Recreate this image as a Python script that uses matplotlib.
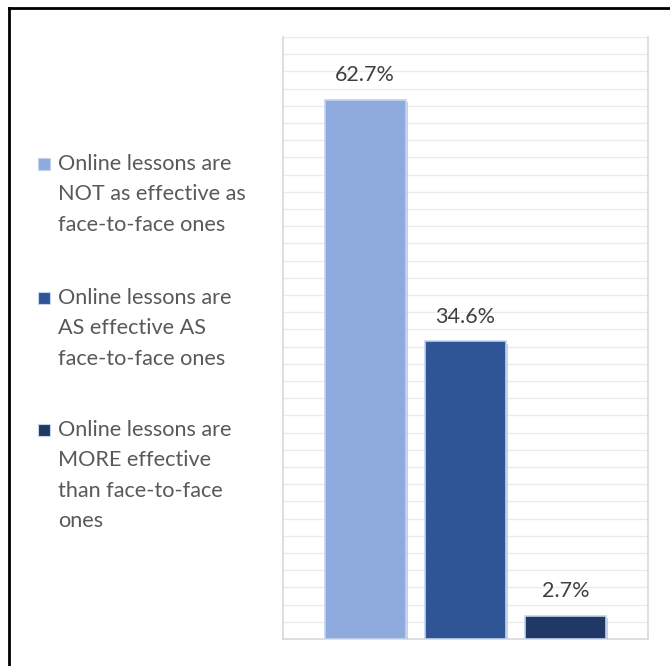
import matplotlib.pyplot as plt
import matplotlib.patheffects as pe
from matplotlib.patches import Rectangle
from matplotlib.lines import Line2D

labels = ["Online lessons are\nNOT as effective as\nface-to-face ones",
          "Online lessons are\nAS effective AS\nface-to-face ones",
          "Online lessons are\nMORE effective\nthan face-to-face\nones"]
values = [62.7, 34.6, 2.7]
colors = ['#8faadc', '#2f5597', '#203864']

W, H = 670, 666
fig = plt.figure(figsize=(W / 100, H / 100), dpi=100)
plt.rcParams['font.family'] = ['Lato', 'DejaVu Sans']

ax = fig.add_axes([283 / W, 1 - 639 / H, (648 - 283) / W, (639 - 37) / H])
x = list(range(len(values)))
bars = ax.bar(x, values, width=0.81, color=colors, edgecolor='#c5d3ec',
              linewidth=1.2, zorder=3)
for b in bars:
    b.set_path_effects([pe.SimplePatchShadow(offset=(1.5, -1.5), shadow_rgbFace='#7f7f7f', alpha=0.35),
                        pe.Normal()])
    ax.text(b.get_x() + b.get_width() / 2, b.get_height() + 1.7, f"{b.get_height():.1f}%",
            ha='center', va='bottom', fontsize=15.5, color='#404040')

ax.set_xlim(-0.82, 2.82)
ax.set_ylim(0, 70)
ax.set_yticks(range(0, 71, 2))
ax.yaxis.grid(True, color='#ebebeb', linewidth=1)
ax.set_axisbelow(True)
ax.tick_params(left=False, bottom=False, labelleft=False, labelbottom=False)
ax.spines['top'].set_visible(False)
for s in ['left', 'right', 'bottom']:
    ax.spines[s].set_color('#d9d9d9')
    ax.spines[s].set_linewidth(1.2)

# legend drawn by hand on the left
centers = [164, 298, 430]
for lab, c, cy in zip(labels, colors, centers):
    fig.patches.append(Rectangle((38 / W, 1 - (cy + 6) / H), 12 / W, 12 / H,
                                 transform=fig.transFigure, facecolor=c,
                                 edgecolor='#c5d3ec', linewidth=0.8))
    fig.text(58 / W, 1 - (cy - 10) / H, lab, ha='left', va='top', fontsize=15.6,
             color='#595959', linespacing=1.65)

# outer frame
fig.add_artist(Line2D([9 / W, 9 / W], [0, 1 - 8 / H], color='black', lw=2, transform=fig.transFigure))
fig.add_artist(Line2D([9 / W, 1], [1 - 8 / H, 1 - 8 / H], color='black', lw=2, transform=fig.transFigure))

fig.savefig('out.png', dpi=100)
